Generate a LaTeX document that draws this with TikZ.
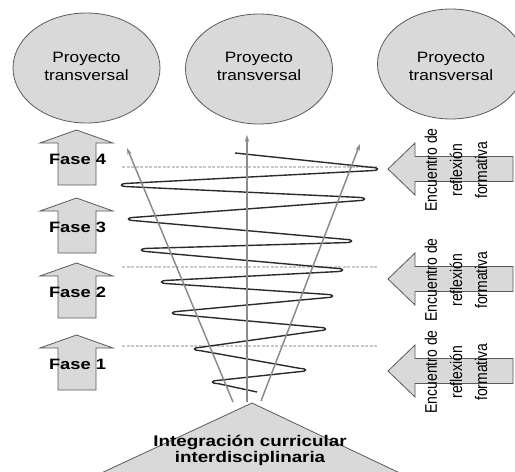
\documentclass[tikz,border=0pt]{standalone}
\usepackage{fontspec}
\setmainfont{Liberation Sans}
\usetikzlibrary{shapes.geometric,arrows.meta}
\definecolor{boxgray}{HTML}{D9D9D9}
\definecolor{edgegray}{HTML}{5A5A5A}
\definecolor{guidegray}{HTML}{8C8C8C}
\definecolor{dotgray}{HTML}{C8C8C8}
\definecolor{spiralgray}{HTML}{2B2B2B}
\tikzset{
  shapebox/.style={fill=boxgray,draw=edgegray,line width=0.8pt},
  proj/.style={ellipse,shapebox,minimum width=147pt,minimum height=110pt,inner sep=0pt},
  projtext/.style={font=\fontsize{15}{18}\selectfont,align=center,inner sep=0pt},
  fasetext/.style={font=\fontsize{15}{18}\selectfont\bfseries,inner sep=0pt},
  enctext/.style={font=\fontsize{14}{21}\selectfont,inner sep=0pt},
  guide/.style={draw=guidegray,line width=1.5pt,-{Stealth[length=7pt,width=4.5pt]}},
  dotline/.style={draw=dotgray,line width=1.4pt,dash pattern=on 3pt off 1.5pt},
  spiral/.style={draw=spiralgray,line width=1.4pt,line join=round}
}
\begin{document}
\begin{tikzpicture}[x=1pt,y=-1pt]
\useasboundingbox (0,0) rectangle (515,472);
\clip (0,0) rectangle (515,472);
\fill[white] (0,0) rectangle (515,472);

% ellipses
\node[proj] (p1) at (86.5,68) {};
\node[proj] (p2) at (259,69) {};
\node[proj] (p3) at (451,64) {};
\node[projtext] (t1) at (86.5,68) {\scalebox{1.15}[1]{\begin{tabular}{@{}c@{}}Proyecto\\transversal\end{tabular}}};
\node[projtext] (t2) at (259,68) {\scalebox{1.15}[1]{\begin{tabular}{@{}c@{}}Proyecto\\transversal\end{tabular}}};
\node[projtext] (t3) at (451,68) {\scalebox{1.15}[1]{\begin{tabular}{@{}c@{}}Proyecto\\transversal\end{tabular}}};

% Fase arrows
\foreach \t/\n in {130/4,198/3,263/2,335/1}{
  \draw[shapebox] (58,\t+55) -- (58,\t+13) -- (40,\t+13) -- (76.5,\t) -- (113,\t+13) -- (96,\t+13) -- (96,\t+55) -- cycle;
  \node[fasetext] (fase\n) at (77.5,\t+29) {\scalebox{1.22}[1]{Fase \n}};
}

% right arrows
\foreach \c/\n in {169/1,279/2,371/3}{
  \draw[shapebox] (513,\c-12.5) -- (415,\c-12.5) -- (415,\c-26) -- (388,\c) -- (415,\c+26) -- (415,\c+12.5) -- (513,\c+12.5) -- cycle;
  \node[enctext] (enc\n) at (457,\c+1) {\scalebox{1.2}[1]{\rotatebox{90}{\begin{tabular}{@{}c@{}}Encuentro de\\reflexión\\formativa\end{tabular}}}};
}

% dotted lines
\draw[dotline] (122,167) -- (378,167);
\draw[dotline] (122,267) -- (378,267);
\draw[dotline] (122,346) -- (378,346);

% spiral
\draw[spiral] (235,153)
 -- (372,167.4) .. controls (379.5,167.6) and (379.5,170.4) .. (372,170.6)
 -- (127,183.4) .. controls (119.5,183.6) and (119.5,186.4) .. (127,186.6)
 -- (359,197.4) .. controls (366.5,197.6) and (366.5,200.4) .. (359,200.6)
 -- (134,217.4) .. controls (126.5,217.6) and (126.5,220.4) .. (134,220.6)
 -- (346,239.4) .. controls (353.5,239.6) and (353.5,242.4) .. (346,242.6)
 -- (147,248.4) .. controls (139.5,248.6) and (139.5,251.4) .. (147,251.6)
 -- (337,268.4) .. controls (344.5,268.6) and (344.5,271.4) .. (337,271.6)
 -- (167,280.4) .. controls (159.5,280.6) and (159.5,283.4) .. (167,283.6)
 -- (327,294.4) .. controls (334.5,294.6) and (334.5,297.4) .. (327,297.6)
 -- (178,311.4) .. controls (170.5,311.6) and (170.5,314.4) .. (178,314.6)
 -- (320,327.4) .. controls (327.5,327.6) and (327.5,330.4) .. (320,330.6)
 -- (200,347.4) .. controls (192.5,347.6) and (192.5,350.4) .. (200,350.6)
 -- (300,368.4) .. controls (307.5,368.6) and (307.5,371.4) .. (300,371.6)
 -- (218,380.4) .. controls (210.5,380.6) and (210.5,383.4) .. (218,383.6)
 -- (257,392);

% guide arrows
\coordinate (gL0) at (233,402);
\coordinate (gL1) at (127,148);
\coordinate (gC0) at (247,402);
\coordinate (gC1) at (247,135);
\coordinate (gR0) at (261,401);
\coordinate (gR1) at (360,144);
\draw[guide] (gL0) -- (gL1);
\draw[guide] (gC0) -- (gC1);
\draw[guide] (gR0) -- (gR1);

% base triangle
\draw[shapebox] (252,403) -- (97,475) -- (404,475) -- cycle;
\node[font=\fontsize{15.4}{16}\selectfont\bfseries,inner sep=0pt] (base) at (250,451)
  {\scalebox{1.22}[1]{\begin{tabular}{@{}c@{}}Integración curricular\\interdisciplinaria\end{tabular}}};
\end{tikzpicture}
\end{document}
